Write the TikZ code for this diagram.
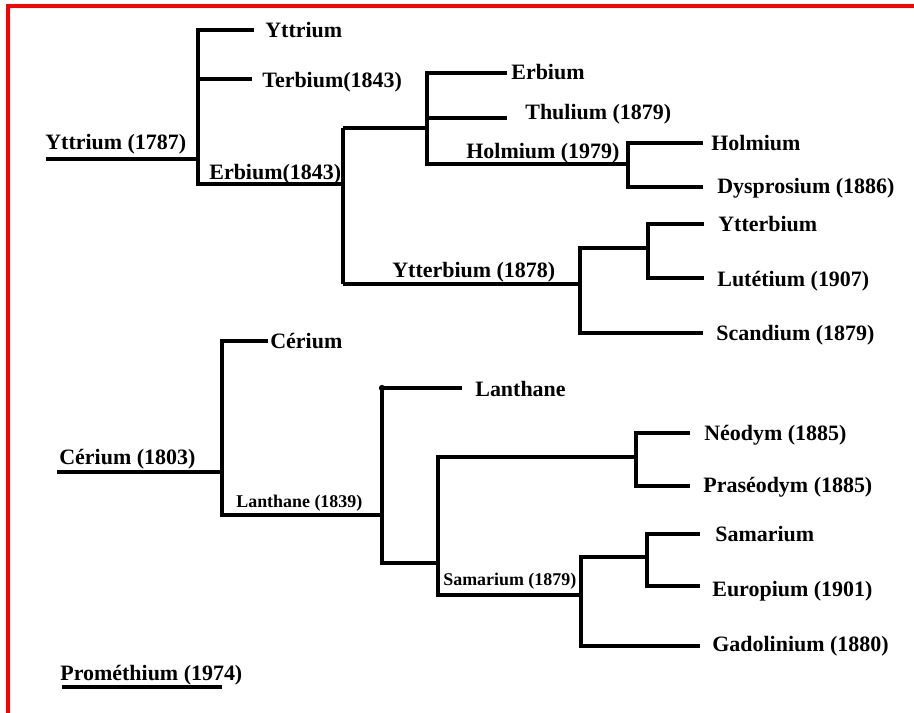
\documentclass[tikz,border=0pt]{standalone}
\usepackage{fontspec}
\setmainfont{Liberation Serif}
\usetikzlibrary{positioning}

\begin{document}
\begin{tikzpicture}[
  x=0.02cm, y=-0.02cm,
  every node/.style={anchor=west,inner sep=0pt,text height=8.2pt,text depth=0pt,
    font=\bfseries\fontsize{12.5}{15}\selectfont},
  small/.style={text height=6.7pt,font=\bfseries\fontsize{10.2}{12}\selectfont},
  branch/.style={line width=2.1pt},
  frame/.style={red,line width=1.8pt}
]
  \useasboundingbox (0,0) rectangle (914,713);
  \draw[frame] (8,713) -- (8,6) -- (914,6);

  \begin{scope}
    \coordinate (ytR) at (46,159);  \coordinate (ytJ) at (198,159);
    \coordinate (ytA) at (254,30);  \coordinate (tbE) at (252,79);
    \coordinate (erT) at (343,128); \coordinate (erB) at (343,284);
    \coordinate (erM) at (343,184);
    \coordinate (erJ) at (427,128); \coordinate (erE) at (507,73);
    \coordinate (tmE) at (507,118); \coordinate (hoJ) at (628,164);
    \coordinate (hoE) at (703,143); \coordinate (dyE) at (703,187);
    \coordinate (ybJ) at (580,284); \coordinate (luJ) at (648,248);
    \coordinate (ybE) at (704,224); \coordinate (luE) at (704,278);
    \coordinate (scE) at (703,333);
    \draw[branch] (ytR) -- (ytJ);
    \draw[branch] (ytA) -| (erM -| ytJ) -- (erM);
    \draw[branch] (tbE -| ytJ) -- (tbE);
    \draw[branch] (erT) -- (erB);
    \draw[branch] (erT) -- (erJ);
    \draw[branch] (erE) -| (hoJ -| erJ) -- (hoJ);
    \draw[branch] (tmE -| erJ) -- (tmE);
    \draw[branch] (hoE) -| (dyE -| hoJ) -- (dyE);
    \draw[branch] (erB) -- (ybJ);
    \draw[branch] (luJ) -| (scE -| ybJ) -- (scE);
    \draw[branch] (ybE) -| (luE -| luJ) -- (luE);
    \node (lYt87) at (45,142.5) {Yttrium (1787)};
    \node (lYt)   at (265,30)   {Yttrium};
    \node (lTb)   at (262,80)   {Terbium(1843)};
    \node (lEr43) at (209,172)  {Erbium(1843)};
    \node (lEr)   at (511,72)   {Erbium};
    \node (lTm)   at (525,112)  {Thulium (1879)};
    \node (lHo79) at (466,151)  {Holmium (1979)};
    \node (lHo)   at (711,143.5) {Holmium};
    \node (lDy)   at (717,186)  {Dysprosium (1886)};
    \node (lYb78) at (392,270)  {Ytterbium (1878)};
    \node (lYb)   at (718,224)  {Ytterbium};
    \node (lLu)   at (717,279.5) {Lutétium (1907)};
    \node (lSc)   at (716,333.5) {Scandium (1879)};
  \end{scope}

  \begin{scope}
    \coordinate (ceR) at (57,472);  \coordinate (ceJ) at (222,472);
    \coordinate (ceE) at (268,341); \coordinate (laJ) at (382,515);
    \coordinate (laE) at (462,388); \coordinate (smJ) at (438,563);
    \coordinate (ndJ) at (636,457); \coordinate (gdJ) at (581,595);
    \coordinate (ndE) at (690,433); \coordinate (prE) at (690,486);
    \coordinate (euJ) at (647,557); \coordinate (gdE) at (700,646);
    \coordinate (saE) at (700,534); \coordinate (euE) at (700,586);
    \draw[branch] (ceR) -- (ceJ);
    \draw[branch] (ceE) -| (laJ -| ceJ) -- (laJ);
    \draw[branch] (laE) -| (smJ -| laJ) -- (smJ);
    \fill (laE -| laJ) circle[radius=1.8pt];
    \draw[branch] (ndJ) -| (gdJ -| smJ) -- (gdJ);
    \draw[branch] (ndE) -| (prE -| ndJ) -- (prE);
    \draw[branch] (euJ) -| (gdE -| gdJ) -- (gdE);
    \draw[branch] (saE) -| (euE -| euJ) -- (euE);
    \node (lCe03) at (59,457)  {Cérium (1803)};
    \node (lCe)   at (270,341) {Cérium};
    \node[small] (lLa39) at (236,502) {Lanthane (1839)};
    \node (lLa)   at (475,389) {Lanthane};
    \node[small] (lSm79) at (443,580) {Samarium (1879)};
    \node (lNd)   at (704,433) {Néodym (1885)};
    \node (lPr)   at (703,485.5) {Praséodym (1885)};
    \node (lSm)   at (715,534) {Samarium};
    \node (lEu)   at (712,589) {Europium (1901)};
    \node (lGd)   at (712,644) {Gadolinium (1880)};
  \end{scope}

  \node (lPm) at (60,673) {Prométhium (1974)};
  \coordinate (pmL) at (62,687); \coordinate (pmR) at (222,687);
  \draw[branch] (pmL) -- (pmR);
\end{tikzpicture}
\end{document}
